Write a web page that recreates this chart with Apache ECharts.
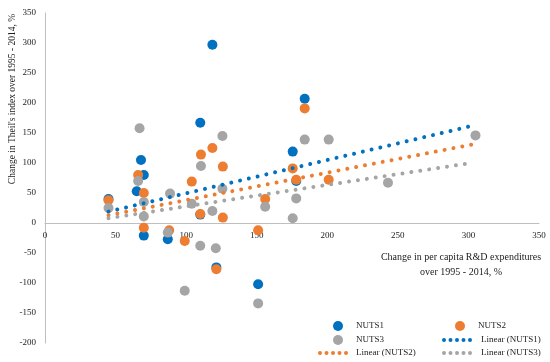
<!DOCTYPE html>
<html>
<head>
<meta charset="utf-8">
<script src="https://cdn.jsdelivr.net/npm/echarts@6/dist/echarts.min.js"></script>
<style>html,body{margin:0;padding:0;background:#fff}#c{width:550px;height:362px}</style>
</head>
<body>
<div id="c"></div>
<script>
// ---- data ----
const nuts1X = [45, 68, 70, 65, 70, 87, 110, 110, 118.6, 121.4, 151, 175.5, 178, 184];
const nuts1Y = [40, 105, 80, 53, -21, -27, 167, 14, 297, -74, -102, 119, 70, 207];
const nuts2X = [45, 66, 70, 70, 88, 99, 104, 110.5, 110, 118.6, 126, 126, 121.4, 151, 156, 175.5, 178, 184, 201];
const nuts2Y = [38, 80, 50, -8, -12, -30, 69, 114, 15, 125, 94, 9, -77, -12, 40, 91, 72, 191, 72];
const nuts3X = [45, 67, 66, 70, 70, 87, 88.6, 99, 104, 110, 110.5, 118.6, 121, 125.7, 125.7, 151, 156, 175.5, 178, 184, 201, 243, 305];
const nuts3Y = [25, 158, 70, 35, 11, -16, 49, -113, 32, -38, 95, 20, -42, 145, 57, -134, 27, 8, 41, 139, 139, 67, 146];
// trend line end points
const lin1X = [45, 301], lin1Y = [19, 161];
const lin2X = [45, 303], lin2Y = [13, 131];
const lin3X = [45, 299], lin3Y = [8, 99];
const xTicks = {min: 0, max: 350, step: 50};
const yTicks = {min: -200, max: 350, step: 50};
const seriesNames = ['NUTS1', 'NUTS2', 'NUTS3', 'Linear (NUTS1)', 'Linear (NUTS2)', 'Linear (NUTS3)'];
const yTitle = "Change in Theil's index over 1995 - 2014, %";
const xTitle = "Change in per capita R&D expenditures\nover 1995 - 2014, %";

const BLUE = '#0070C0', ORANGE = '#ED7D31', GRAY = '#A5A5A5';
const FONT = '"Liberation Serif", "Times New Roman", serif';
const TXT = '#222';
const zip = (xs, ys) => xs.map((x, i) => [x, ys[i]]);

const GRID_TOP = 13, GRID_BOTTOM = 19, H = 362;
const plotH = H - GRID_TOP - GRID_BOTTOM;
const zeroOffset = plotH * (0 - yTicks.min) / (yTicks.max - yTicks.min); // distance from bottom edge to y=0

const dotIcon = 'path://M0,2a2,2 0 1,0 4,0a2,2 0 1,0 -4,0Z M6.5,2a2,2 0 1,0 4,0a2,2 0 1,0 -4,0Z M13,2a2,2 0 1,0 4,0a2,2 0 1,0 -4,0Z M19.5,2a2,2 0 1,0 4,0a2,2 0 1,0 -4,0Z M26,2a2,2 0 1,0 4,0a2,2 0 1,0 -4,0Z';

function scatter(name, xs, ys, color) {
  return {name, type: 'scatter', data: zip(xs, ys), symbolSize: 10,
    itemStyle: {color, opacity: 1}, z: 2};
}
function trend(name, xs, ys, color) {
  return {name, type: 'line', data: zip(xs, ys), showSymbol: false, symbol: 'none',
    lineStyle: {color, width: 4, type: [0.01, 9], cap: 'round'}, itemStyle: {color}, z: 5, silent: true};
}
function leg(name, left, cy, isDot, pad) {
  return {
    data: [{name, icon: isDot ? dotIcon : 'circle'}],
    left, top: cy - 5, padding: 0, selectedMode: false,
    itemWidth: isDot ? 30 : 26, itemHeight: isDot ? 4 : 10,
    textStyle: {fontFamily: FONT, fontSize: 9, color: TXT, lineHeight: 10, padding: [0, 0, 0, pad]}
  };
}

const chart = echarts.init(document.getElementById('c'), null, {renderer: 'canvas'});
chart.setOption({
  animation: false,
  backgroundColor: '#fff',
  grid: {left: 45, right: 11, top: GRID_TOP, bottom: GRID_BOTTOM, containLabel: false},
  xAxis: {
    type: 'value', min: xTicks.min, max: xTicks.max, interval: xTicks.step,
    position: 'bottom', offset: -zeroOffset,
    axisLine: {show: true, onZero: false, lineStyle: {color: '#BFBFBF', width: 1}},
    axisTick: {show: false}, splitLine: {show: false},
    axisLabel: {fontFamily: FONT, fontSize: 9, color: TXT, margin: 8}
  },
  yAxis: {
    type: 'value', min: yTicks.min, max: yTicks.max, interval: yTicks.step,
    axisLine: {show: true, lineStyle: {color: '#BFBFBF', width: 1}},
    axisTick: {show: false}, splitLine: {show: false},
    axisLabel: {fontFamily: FONT, fontSize: 9, color: TXT, margin: 9}
  },
  legend: [
    leg(seriesNames[0], 333, 326, false, 0),
    leg(seriesNames[1], 455, 326, false, 0),
    leg(seriesNames[2], 333, 340, false, 0),
    leg(seriesNames[3], 442, 340, true, 4),
    leg(seriesNames[4], 318, 353, true, 3),
    leg(seriesNames[5], 442, 353, true, 4)
  ],
  graphic: [
    {type: 'text', x: 12, y: 99, rotation: Math.PI / 2,
      style: {text: yTitle, fontFamily: FONT, fontSize: 9.5, fill: TXT, textAlign: 'center', textVerticalAlign: 'middle', align: 'center', verticalAlign: 'middle'}},
    {type: 'text', x: 461, y: 250,
      style: {text: xTitle, fontFamily: FONT, fontSize: 10, fill: TXT, lineHeight: 15, textAlign: 'center', textVerticalAlign: 'top', align: 'center', verticalAlign: 'top'}}
  ],
  series: [
    scatter(seriesNames[0], nuts1X, nuts1Y, BLUE),
    scatter(seriesNames[1], nuts2X, nuts2Y, ORANGE),
    scatter(seriesNames[2], nuts3X, nuts3Y, GRAY),
    trend(seriesNames[3], lin1X, lin1Y, BLUE),
    trend(seriesNames[4], lin2X, lin2Y, ORANGE),
    trend(seriesNames[5], lin3X, lin3Y, GRAY)
  ]
});
</script>
</body>
</html>
